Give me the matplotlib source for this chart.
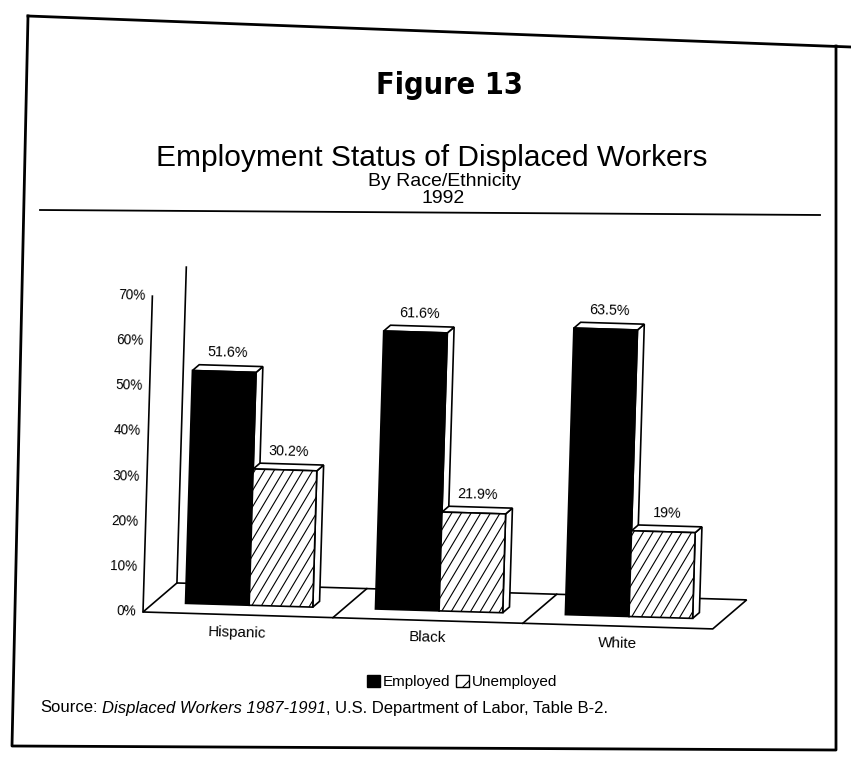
import numpy as np
import matplotlib
matplotlib.use('Agg')
import matplotlib.pyplot as plt
from matplotlib import font_manager
from matplotlib.patches import Polygon, Patch
from matplotlib.transforms import Affine2D
from matplotlib.lines import Line2D
from matplotlib.collections import LineCollection

plt.rcParams['font.family'] = ['Liberation Sans', 'DejaVu Sans']
plt.rcParams['hatch.linewidth'] = 0.8

# Data
groups = ['Hispanic', 'Black', 'White']
employed = [51.6, 61.6, 63.5]
unemployed = [30.2, 21.9, 19.0]
employed_labels = ['51.6%', '61.6%', '63.5%']
unemployed_labels = ['30.2%', '21.9%', '19%']
yticks = [0, 10, 20, 30, 40, 50, 60, 70]
ytick_labels = ['0%', '10%', '20%', '30%', '40%', '50%', '60%', '70%']

W, H = 851, 764
fig = plt.figure(figsize=(W / 100, H / 100), dpi=100)

# chart panel (straightened), then rotated a little like the scan
ax = fig.add_axes([143 / W, 152 / H, 570 / W, 316 / H])
ax.set_xlim(-0.5, 2.5)
ax.set_ylim(0, 70)
ax.axis('off')
tilt = -1.7
tr = ax.transData + Affine2D().rotate_deg_around(143, 152, tilt)

# 3d look: floor depth, bar position in depth and bar thickness
DX, DY = 0.174, 6.65
bar_w = 0.335
bar_f = 0.33
bar_t = 0.2
LW = 1.2


def face(pts, fc, z=2):
    p = Polygon(pts, closed=True, facecolor=fc, edgecolor='black',
                linewidth=LW, transform=tr, clip_on=False, zorder=z)
    ax.add_patch(p)
    return p


def line(xs, ys, z=1):
    ax.add_line(Line2D(xs, ys, color='black', linewidth=LW,
                       transform=tr, clip_on=False, zorder=z))


def bar3d(x0, h, fc, hatch=False):
    x0 = x0 + bar_f * DX
    y0 = bar_f * DY
    x1 = x0 + bar_w
    top = y0 + h
    tx, ty = bar_t * DX, bar_t * DY
    face([(x1, y0), (x1 + tx, y0 + ty), (x1 + tx, top + ty), (x1, top)], 'white')
    face([(x0, top), (x0 + tx, top + ty), (x1 + tx, top + ty), (x1, top)], 'white')
    front = face([(x0, y0), (x1, y0), (x1, top), (x0, top)], fc)
    if hatch:
        slope = 75.9      # % per category unit -> about 60 degrees
        run = h / slope
        segs = [[(c, y0), (c + run, top)]
                for c in np.arange(x1 - 0.02, x0 - run, -0.05)]
        lc = LineCollection(segs, colors='black', linewidths=0.8,
                            transform=tr, zorder=2)
        ax.add_collection(lc)
        lc.set_clip_path(front)
        lc.set_clip_box(None)
    return x0, x1, top


def label(x, y, s, size=10, ha='center', va='bottom'):
    ax.text(x, y, s, transform=tr, rotation=tilt, rotation_mode='anchor',
            ha=ha, va=va, fontsize=size)


# floor
n = len(groups)
face([(-0.5, 0), (n - 0.5, 0), (n - 0.5 + DX, DY), (-0.5 + DX, DY)], 'white', z=1)
for i in range(1, n):
    line([i - 0.5, i - 0.5 + DX], [0, DY])
# front axis and back wall edge
line([-0.5, -0.5], [0, yticks[-1]])
line([-0.5 + DX, -0.5 + DX], [DY, yticks[-1] + DY])

for v, s in zip(yticks, ytick_labels):
    label(-0.537, v, s, size=9.8, ha='right', va='center')

for i, g in enumerate(groups):
    x0, x1, top = bar3d(i - bar_w, employed[i], 'black')
    label((x0 + x1) / 2 + bar_t * DX / 2, top + bar_t * DY + 1.3, employed_labels[i], size=10.3)
    x0, x1, top = bar3d(i, unemployed[i], 'white', hatch=True)
    label((x0 + x1) / 2 + bar_t * DX / 2, top + bar_t * DY + 1.3, unemployed_labels[i], size=10.3)
    label(i, -3.9, g, size=11, va='center')

# titles; the heading is a condensed bold face if one is installed
names = {f.name for f in font_manager.fontManager.ttflist}
cond = [f for f in font_manager.fontManager.ttflist
        if f.name == 'DejaVu Sans' and 'ondensed' in str(f.stretch) + f.fname]
if 'Liberation Sans Narrow' in names:
    head = dict(family=['Liberation Sans Narrow'], fontsize=25)
elif cond:
    head = dict(family=['DejaVu Sans'], fontstretch='condensed', fontsize=22)
else:
    head = dict(family=['Liberation Sans'], fontsize=21.5)
fig.text(449 / W, 1 - 86 / H, 'Figure 13', ha='center', va='center',
         fontweight='bold', **head)
fig.text(432 / W, 1 - 158 / H, 'Employment Status of Displaced Workers',
         ha='center', va='center', fontsize=21.5)
fig.text(444 / W, 1 - 181 / H, 'By Race/Ethnicity', ha='center', va='center', fontsize=14)
fig.text(443 / W, 1 - 198 / H, '1992', ha='center', va='center', fontsize=14)
fig.add_artist(Line2D([40 / W, 820 / W], [1 - 210 / H, 1 - 215 / H],
                      color='black', linewidth=1.3, transform=fig.transFigure))

# legend
handles = [Patch(facecolor='black', edgecolor='black', label='Employed'),
           Patch(facecolor='white', edgecolor='black', hatch='//', label='Unemployed')]
fig.legend(handles=handles, ncol=2, loc='center', bbox_to_anchor=(462 / W, 1 - 682 / H),
           frameon=False, fontsize=11, handlelength=0.85, handleheight=0.85,
           handletextpad=0.15, columnspacing=0.4, borderpad=0)

# source line, mixed italic
renderer = fig.canvas.get_renderer()
x = 40
fs = 12
for s, st in [('Source:', 'normal'), ('Displaced Workers 1987-1991', 'italic'),
              (', U.S. Department of Labor, Table B-2.', 'normal')]:
    t = fig.text(x / W, 1 - 708 / H, s, style=st, fontsize=fs, va='center')
    x += t.get_window_extent(renderer).width
    if s == 'Source:':
        x += 0.278 * fs * 100 / 72

# page border from the scan
fig.add_artist(Line2D([28 / W, 1.0], [1 - 16 / H, 1 - 47 / H], color='black',
                      linewidth=2, transform=fig.transFigure))
fig.add_artist(Line2D([836 / W, 836 / W, 12 / W, 28 / W],
                      [1 - 46 / H, 1 - 750 / H, 1 - 746 / H, 1 - 16 / H],
                      color='black', linewidth=2, transform=fig.transFigure))

fig.savefig('out.png', dpi=100)
